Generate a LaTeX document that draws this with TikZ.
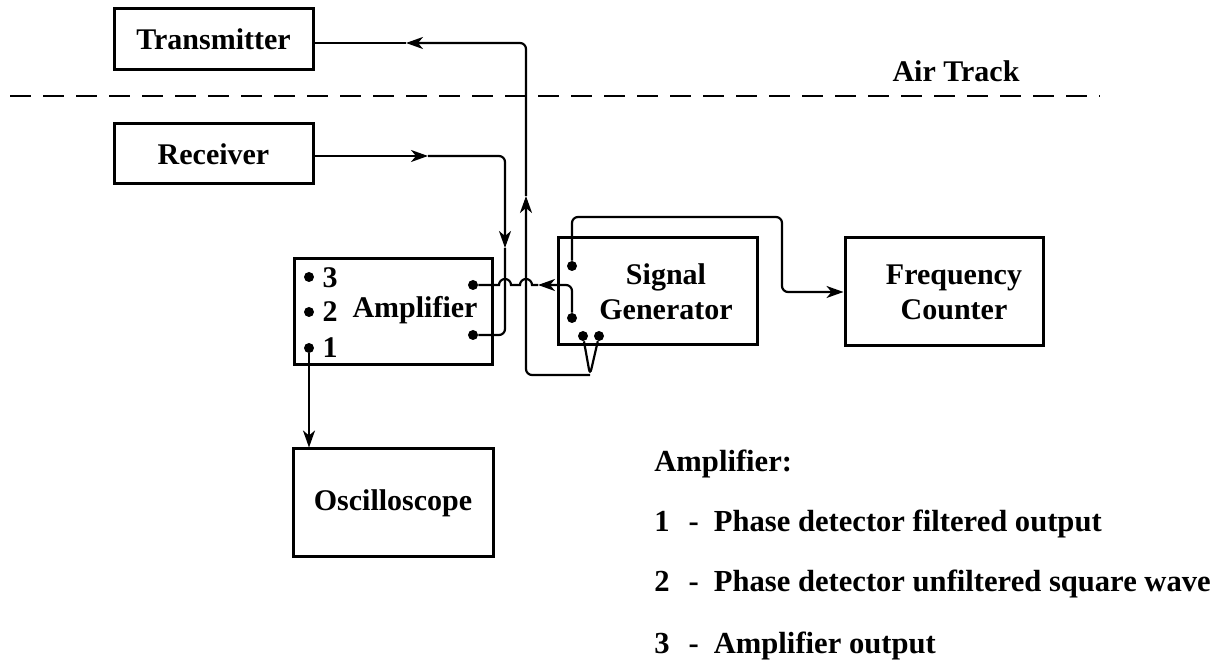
\documentclass[tikz,border=0pt]{standalone}
\usepackage{fontspec}
\setmainfont{Liberation Serif}
\usetikzlibrary{arrows.meta}
\begin{document}
\begin{tikzpicture}[x=0.5pt,y=-0.5pt,
  box/.style={draw, line width=1.5pt, inner sep=0pt, align=center, font=\fontsize{15}{17.5}\selectfont\bfseries},
  lbl/.style={inner sep=0pt, align=center, font=\fontsize{15}{17.5}\selectfont\bfseries},
  leg/.style={inner sep=0pt, anchor=base west, font=\fontsize{15.3}{18}\selectfont\bfseries},
  wire/.style={line width=1.1pt, rounded corners=3pt},
  arr/.style={wire, -{Stealth[length=8.5pt,width=6pt,inset=2.5pt]}},
  dot/.style={circle, fill, inner sep=0pt, minimum size=5pt},
  track/.style={line width=1.3pt, dash pattern=on 10.5pt off 6pt},
]
\useasboundingbox (0,0) rectangle (1217,672);

% boxes
\node[box, minimum width=99.5pt, minimum height=30.5pt] (tx) at (213.5,39.5) {Transmitter};
\node[box, minimum width=99.5pt, minimum height=30pt] (rx) at (213.5,154) {Receiver};
\node[box, minimum width=99pt, minimum height=53pt] (amp) at (393,312) {};
\node[box, minimum width=99.5pt, minimum height=53.5pt] (sg) at (657.5,291.5) {};
\node[box, minimum width=99pt, minimum height=54pt] (fc) at (944,292) {};
\node[box, minimum width=100pt, minimum height=54pt] (osc) at (393,503) {Oscilloscope};

% texts inside boxes
\node[lbl, anchor=base] (amptxt) at (415,318) {Amplifier};
\node[lbl] (sgtxt) at (666,291.5) {Signal\\Generator};
\node[lbl] (fctxt) at (954,292) {Frequency\\Counter};
\node[lbl, anchor=base] (n3) at (330,288) {3};
\node[lbl, anchor=base] (n2) at (330,322) {2};
\node[lbl, anchor=base] (n1) at (330,358) {1};

% dots
\node[dot] (d3) at (309,277) {};
\node[dot] (d2) at (309,312) {};
\node[dot] (d1) at (309,348) {};
\node[dot] (ar1) at (473,285) {};
\node[dot] (ar2) at (473,335) {};
\node[dot] (sg1) at (572,266) {};
\node[dot] (sg2) at (572,318) {};
\node[dot] (sg3) at (583,336) {};
\node[dot] (sg4) at (599,336) {};

% air track
\coordinate (trL) at (10,96);
\coordinate (trR) at (1100,96);
\draw[track] (trL) -- (trR);
\node[lbl, anchor=base] (airtrack) at (956,82) {Air Track};

% junction and arrow points
\coordinate (jn) at (590,375);
\coordinate (upA) at (526,196);
\coordinate (txA) at (406,43);
\coordinate (rxA) at (428,156);
\coordinate (dnA) at (505,248);
\coordinate (sgA) at (538,285);

% receiver -> amplifier
\draw[arr] ([yshift=-1pt]rx.east) -- (rxA);
\draw[arr] (rxA) -- (505,156) -- (dnA);
\draw[wire] (dnA) -- (505,335) -- (ar2);

% signal generator -> transmitter
\draw[wire] (sg3) -- (jn) -- (sg4);
\draw[arr] (jn) -- (526,375) -- (upA);
\draw[arr] (upA) -- (526,43) -- (txA);
\draw[wire] (txA) -- ([yshift=-1.75pt]tx.east);

% signal generator -> amplifier (with hops)
\draw[arr] (sg2) -- (572,285) -- (sgA);
\draw[wire, rounded corners=0pt] (sgA) -- (532,285) arc[start angle=0, end angle=180, radius=3pt]
  -- (511,285) arc[start angle=0, end angle=180, radius=3pt] -- (ar1);

% signal generator -> frequency counter
\draw[arr] (sg1) -- (572,217) -- (782,217) -- (782,292) -- (fc.west);

% amplifier -> oscilloscope
\draw[arr] (d1) -- (d1 |- osc.north);

% legend
\node[leg] (lg0) at (654,472) {Amplifier:};
\node[leg] (lg1) at (654,532) {1\hspace{9.5pt}-\hspace{7.5pt}Phase detector filtered output};
\node[leg] (lg2) at (654,592) {2\hspace{9.5pt}-\hspace{7.5pt}Phase detector unfiltered square wave};
\node[leg] (lg3) at (654,654) {3\hspace{9.5pt}-\hspace{7.5pt}Amplifier output};
\end{tikzpicture}
\end{document}
